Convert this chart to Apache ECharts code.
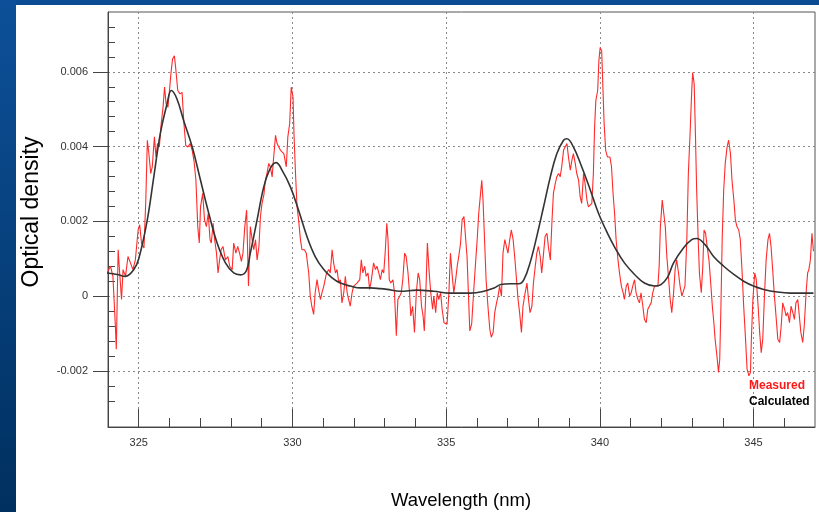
<!DOCTYPE html>
<html>
<head>
<meta charset="utf-8">
<script src="https://cdn.jsdelivr.net/npm/echarts@6.0.0/dist/echarts.min.js"></script>
<style>
  html, body { margin: 0; padding: 0; background: #fff; }
  #chart { width: 819px; height: 512px; }
</style>
</head>
<body>
<div id="chart"></div>
<script>
// axis ticks
var xMajorTicks = [325, 330, 335, 340, 345];
var xMinorTicks = [324, 326, 327, 328, 329, 331, 332, 333, 334, 336, 337, 338, 339, 341, 342, 343, 344, 346];
var yMajorTicks = [-0.002, 0, 0.002, 0.004, 0.006];
var yMinorTicks = [-0.0028, -0.0024, -0.0016, -0.0012, -0.0008, -0.0004, 0.0004, 0.0008, 0.0012, 0.0016,
  0.0024, 0.0028, 0.0032, 0.0036, 0.0044, 0.0048, 0.0052, 0.0056, 0.0064, 0.0068, 0.0072];

// [wavelength nm, optical density]
var calculated = [
  [323.97, 0.62e-3], [324.3, 0.58e-3], [324.57, 0.53e-3], [324.84, 0.71e-3], [325.0, 1.0e-3],
  [325.27, 2.0e-3], [325.49, 3.19e-3], [325.7, 4.34e-3], [325.92, 5.14e-3], [326.06, 5.5e-3],
  [326.24, 5.28e-3], [326.46, 4.7e-3], [326.74, 3.99e-3], [327.01, 3.1e-3], [327.28, 2.21e-3],
  [327.55, 1.42e-3], [327.82, 0.89e-3], [328.09, 0.62e-3], [328.31, 0.57e-3], [328.5, 0.68e-3],
  [328.63, 1.15e-3], [328.85, 2.04e-3], [329.07, 2.93e-3], [329.28, 3.42e-3], [329.47, 3.57e-3],
  [329.66, 3.37e-3], [329.93, 2.93e-3], [330.2, 2.3e-3], [330.47, 1.6e-3], [330.74, 1.06e-3],
  [331.02, 0.71e-3], [331.29, 0.49e-3], [331.56, 0.35e-3], [331.88, 0.27e-3], [332.21, 0.22e-3],
  [332.53, 0.22e-3], [332.86, 0.2e-3], [333.08, 0.18e-3], [333.51, 0.13e-3], [334.05, 0.16e-3],
  [334.6, 0.13e-3], [335.14, 0.08e-3], [335.79, 0.08e-3], [336.23, 0.13e-3], [336.56, 0.22e-3],
  [336.78, 0.31e-3], [337.1, 0.33e-3], [337.37, 0.33e-3], [337.53, 0.44e-3], [337.73, 0.89e-3],
  [337.95, 1.6e-3], [338.17, 2.39e-3], [338.39, 3.19e-3], [338.6, 3.81e-3], [338.82, 4.17e-3],
  [338.93, 4.21e-3], [339.14, 3.99e-3], [339.41, 3.46e-3], [339.69, 2.84e-3], [339.96, 2.21e-3],
  [340.25, 1.68e-3], [340.53, 1.24e-3], [340.8, 0.89e-3], [341.13, 0.58e-3], [341.45, 0.35e-3],
  [341.78, 0.27e-3], [341.99, 0.31e-3], [342.2, 0.5e-3], [342.4, 0.89e-3], [342.72, 1.29e-3],
  [342.99, 1.51e-3], [343.15, 1.54e-3], [343.43, 1.37e-3], [343.7, 1.06e-3], [344.03, 0.8e-3],
  [344.36, 0.58e-3], [344.68, 0.4e-3], [345.0, 0.27e-3], [345.33, 0.18e-3], [345.77, 0.11e-3],
  [346.2, 0.08e-3], [346.63, 0.08e-3], [346.95, 0.08e-3]
];

var measured = [
  [323.97, 0.62e-3], [324.08, 0.8e-3], [324.16, 0.53e-3], [324.24, -0.8e-3], [324.27, -1.42e-3],
  [324.33, 1.24e-3], [324.38, 0.62e-3], [324.44, -0.09e-3], [324.49, 0.71e-3], [324.57, 0.53e-3],
  [324.65, 1.06e-3], [324.73, 0.89e-3], [324.81, 0.71e-3], [324.89, 0.97e-3], [324.98, 1.77e-3],
  [325.03, 1.91e-3], [325.09, 1.42e-3], [325.17, 1.29e-3], [325.23, 2.57e-3], [325.28, 4.17e-3],
  [325.33, 3.81e-3], [325.39, 3.28e-3], [325.44, 3.46e-3], [325.51, 4.26e-3], [325.56, 3.72e-3],
  [325.61, 4.08e-3], [325.67, 3.99e-3], [325.73, 4.61e-3], [325.79, 5.05e-3], [325.84, 5.59e-3],
  [325.89, 5.14e-3], [325.95, 5.05e-3], [326.0, 5.5e-3], [326.05, 5.98e-3], [326.1, 6.34e-3],
  [326.16, 6.43e-3], [326.2, 6.12e-3], [326.27, 5.5e-3], [326.34, 5.41e-3], [326.41, 5.45e-3],
  [326.47, 4.61e-3], [326.53, 4.03e-3], [326.6, 3.99e-3], [326.67, 4.08e-3], [326.74, 3.9e-3],
  [326.8, 3.6e-3], [326.86, 3.1e-3], [326.92, 1.86e-3], [326.97, 1.42e-3], [327.01, 2.39e-3],
  [327.08, 2.75e-3], [327.14, 2.04e-3], [327.2, 1.86e-3], [327.26, 2.21e-3], [327.32, 1.51e-3],
  [327.36, 1.42e-3], [327.42, 1.95e-3], [327.47, 1.51e-3], [327.53, 1.15e-3], [327.58, 0.62e-3],
  [327.63, 0.97e-3], [327.68, 1.24e-3], [327.74, 1.33e-3], [327.82, 0.97e-3], [327.9, 1.06e-3],
  [327.96, 0.8e-3], [328.04, 0.71e-3], [328.09, 1.42e-3], [328.16, 1.15e-3], [328.22, 1.33e-3],
  [328.28, 1.15e-3], [328.34, 0.93e-3], [328.39, 1.15e-3], [328.45, 1.86e-3], [328.51, 2.3e-3],
  [328.57, 0.27e-3], [328.63, 1.86e-3], [328.69, 1.51e-3], [328.74, 1.24e-3], [328.8, 1.51e-3],
  [328.85, 0.97e-3], [328.91, 1.33e-3], [328.96, 2.13e-3], [329.01, 2.48e-3], [329.07, 2.7e-3],
  [329.12, 3.1e-3], [329.17, 3.28e-3], [329.23, 3.55e-3], [329.28, 3.46e-3], [329.34, 3.19e-3],
  [329.39, 3.72e-3], [329.45, 4.3e-3], [329.5, 4.08e-3], [329.61, 3.9e-3], [329.72, 3.81e-3],
  [329.8, 3.46e-3], [329.85, 4.26e-3], [329.91, 4.61e-3], [329.96, 5.59e-3], [330.02, 5.32e-3],
  [330.05, 4.34e-3], [330.1, 3.28e-3], [330.15, 2.39e-3], [330.2, 2.04e-3], [330.26, 1.51e-3],
  [330.31, 1.24e-3], [330.39, 1.24e-3], [330.45, 1.15e-3], [330.53, 0.62e-3], [330.58, 0],
  [330.63, -0.27e-3], [330.69, -0.49e-3], [330.74, 0.09e-3], [330.8, 0.44e-3], [330.85, 0.18e-3],
  [330.91, -0.09e-3], [330.96, 0.09e-3], [331.02, 0.27e-3], [331.11, 0.62e-3], [331.18, 0.71e-3],
  [331.23, 0.62e-3], [331.29, 1.24e-3], [331.34, 0.89e-3], [331.4, 0.62e-3], [331.45, 0.71e-3],
  [331.51, 0.35e-3], [331.56, 0.44e-3], [331.61, -0.18e-3], [331.67, 0.09e-3], [331.72, 0.53e-3],
  [331.78, 0.09e-3], [331.83, -0.09e-3], [331.88, -0.27e-3], [331.94, 0.09e-3], [331.99, 0.27e-3],
  [332.1, 0.35e-3], [332.19, 0.44e-3], [332.24, 0.97e-3], [332.29, 0.62e-3], [332.35, 0.8e-3],
  [332.4, 0.53e-3], [332.46, 0.62e-3], [332.51, 0.18e-3], [332.57, 0.44e-3], [332.64, 0.89e-3],
  [332.7, 0.71e-3], [332.75, 0.8e-3], [332.81, 0.62e-3], [332.86, 0.44e-3], [332.92, 0.71e-3],
  [332.97, 0.62e-3], [333.02, 1.2e-3], [333.07, 1.95e-3], [333.11, 1.51e-3], [333.15, 0.44e-3],
  [333.2, 0.35e-3], [333.27, 0.44e-3], [333.32, 0.09e-3], [333.38, -1.06e-3], [333.43, -0.09e-3],
  [333.49, 0], [333.54, 0.09e-3], [333.59, 0.44e-3], [333.65, 1.15e-3], [333.7, 1.06e-3],
  [333.76, 0.62e-3], [333.81, 0.09e-3], [333.85, -0.53e-3], [333.91, -0.27e-3], [333.97, -0.97e-3],
  [334.03, 0.09e-3], [334.09, 0.62e-3], [334.14, 0.44e-3], [334.2, -0.27e-3], [334.25, -0.53e-3],
  [334.29, -0.93e-3], [334.34, 0.09e-3], [334.39, 1.42e-3], [334.45, 0.62e-3], [334.5, 0.09e-3],
  [334.56, -0.35e-3], [334.6, 0], [334.66, -0.44e-3], [334.71, 0.09e-3], [334.76, -0.09e-3],
  [334.82, 0.09e-3], [334.87, -0.35e-3], [334.93, -0.71e-3], [335.03, -0.75e-3], [335.09, 0.09e-3],
  [335.14, 1.15e-3], [335.2, 0.53e-3], [335.25, 0.09e-3], [335.31, 0.44e-3], [335.36, 0.8e-3],
  [335.41, 1.06e-3], [335.47, 1.42e-3], [335.52, 2.04e-3], [335.58, 2.13e-3], [335.63, 2.17e-3],
  [335.68, 1.06e-3], [335.74, -0.27e-3], [335.77, -0.93e-3], [335.83, -0.75e-3], [335.9, 0.18e-3],
  [335.95, 0.8e-3], [336.01, 1.51e-3], [336.06, 2.21e-3], [336.12, 2.75e-3], [336.16, 3.1e-3],
  [336.2, 2.57e-3], [336.25, 1.51e-3], [336.3, 0.44e-3], [336.36, -0.27e-3], [336.42, -0.88e-3],
  [336.47, -1.1e-3], [336.53, -0.97e-3], [336.58, -0.45e-3], [336.64, -0.18e-3], [336.69, 0],
  [336.74, 0.27e-3], [336.8, 0], [336.85, 1.15e-3], [336.91, 1.51e-3], [336.96, 1.51e-3],
  [337.01, 1.15e-3], [337.07, 1.51e-3], [337.12, 1.77e-3], [337.18, 1.51e-3], [337.23, 1.06e-3],
  [337.29, 0.44e-3], [337.34, -0.09e-3], [337.39, -0.44e-3], [337.45, -0.97e-3], [337.5, -0.27e-3],
  [337.57, 0.09e-3], [337.63, 0.35e-3], [337.68, -0.09e-3], [337.73, -0.44e-3], [337.79, -0.27e-3],
  [337.84, 0.35e-3], [337.9, 0.8e-3], [337.95, 1.15e-3], [338.0, 1.33e-3], [338.06, 1.06e-3],
  [338.11, 0.62e-3], [338.17, 1.15e-3], [338.22, 1.6e-3], [338.28, 1.68e-3], [338.33, 1.3e-3],
  [338.39, 0.97e-3], [338.44, 1.95e-3], [338.49, 2.75e-3], [338.55, 3.01e-3], [338.6, 3.19e-3],
  [338.66, 3.28e-3], [338.71, 3.19e-3], [338.76, 3.46e-3], [338.82, 3.9e-3], [338.87, 3.99e-3],
  [338.93, 4.08e-3], [338.98, 3.72e-3], [339.04, 3.37e-3], [339.09, 3.63e-3], [339.14, 3.81e-3],
  [339.2, 3.55e-3], [339.25, 3.28e-3], [339.31, 3.1e-3], [339.36, 2.66e-3], [339.41, 2.48e-3],
  [339.47, 3.28e-3], [339.52, 3.01e-3], [339.58, 2.57e-3], [339.63, 2.39e-3], [339.69, 2.39e-3],
  [339.74, 2.48e-3], [339.79, 3.28e-3], [339.83, 4.52e-3], [339.87, 5.23e-3], [339.93, 5.5e-3],
  [339.97, 6.3e-3], [340.01, 6.65e-3], [340.06, 6.56e-3], [340.1, 5.59e-3], [340.14, 4.61e-3],
  [340.19, 3.9e-3], [340.25, 3.72e-3], [340.33, 3.72e-3], [340.38, 3.46e-3], [340.43, 2.75e-3],
  [340.48, 2.21e-3], [340.53, 1.51e-3], [340.59, 0.97e-3], [340.64, 0.62e-3], [340.7, 0.27e-3],
  [340.76, 0.09e-3], [340.8, -0.09e-3], [340.86, 0.27e-3], [340.91, 0.35e-3], [340.97, 0],
  [341.02, 0.09e-3], [341.07, 0.27e-3], [341.13, 0.44e-3], [341.18, 0.09e-3], [341.24, -0.09e-3],
  [341.29, -0.18e-3], [341.34, 0.09e-3], [341.4, -0.27e-3], [341.45, -0.62e-3], [341.51, -0.71e-3],
  [341.56, -0.35e-3], [341.62, -0.4e-3], [341.67, -0.18e-3], [341.72, 0.09e-3], [341.78, 0.27e-3],
  [341.83, 0.22e-3], [341.89, 0.27e-3], [341.93, 0.8e-3], [341.97, 1.86e-3], [342.03, 2.57e-3],
  [342.08, 2.57e-3], [342.13, 1.86e-3], [342.18, 1.06e-3], [342.24, 0.44e-3], [342.29, -0.09e-3],
  [342.34, -0.44e-3], [342.4, 0.09e-3], [342.45, 0.71e-3], [342.5, 0.97e-3], [342.56, 0.62e-3],
  [342.61, 0.27e-3], [342.67, 0], [342.72, -0.04e-3], [342.77, 0.27e-3], [342.83, 1.51e-3],
  [342.88, 3.28e-3], [342.94, 4.43e-3], [342.99, 5.5e-3], [343.02, 5.98e-3], [343.07, 5.67e-3],
  [343.11, 4.34e-3], [343.15, 2.84e-3], [343.2, 1.51e-3], [343.24, 0.62e-3], [343.3, 0.09e-3],
  [343.35, 0.8e-3], [343.39, 1.77e-3], [343.44, 1.68e-3], [343.49, 1.33e-3], [343.55, 0.97e-3],
  [343.6, 0.44e-3], [343.66, -0.27e-3], [343.71, -0.71e-3], [343.75, -1.15e-3], [343.81, -1.6e-3],
  [343.86, -2.04e-3], [343.9, -1.7e-3], [343.94, -0.27e-3], [343.98, 1.51e-3], [344.03, 2.84e-3],
  [344.08, 3.55e-3], [344.14, 3.99e-3], [344.19, 4.17e-3], [344.25, 3.81e-3], [344.3, 3.1e-3],
  [344.36, 2.57e-3], [344.41, 2.04e-3], [344.46, 1.86e-3], [344.52, 1.77e-3], [344.57, 1.51e-3],
  [344.63, 0.62e-3], [344.68, -0.27e-3], [344.74, -1.15e-3], [344.79, -1.95e-3], [344.85, -2.13e-3],
  [344.9, -2.04e-3], [344.93, -1.15e-3], [344.98, -0.09e-3], [345.04, 0.62e-3], [345.09, 0.44e-3],
  [345.15, -0.27e-3], [345.2, -0.97e-3], [345.25, -1.51e-3], [345.3, -1.15e-3], [345.36, 0.09e-3],
  [345.41, 0.97e-3], [345.47, 1.51e-3], [345.52, 1.68e-3], [345.57, 1.33e-3], [345.63, 0.62e-3],
  [345.68, 0], [345.74, -0.62e-3], [345.79, -1.15e-3], [345.85, -1.24e-3], [345.9, -0.8e-3],
  [345.95, -0.18e-3], [346.01, -0.35e-3], [346.06, -0.53e-3], [346.11, -0.44e-3], [346.17, -0.71e-3],
  [346.22, -0.27e-3], [346.28, -0.44e-3], [346.33, -0.62e-3], [346.38, -0.18e-3], [346.44, -0.09e-3],
  [346.49, -0.53e-3], [346.54, -0.97e-3], [346.6, -1.24e-3], [346.65, -0.8e-3], [346.71, 0.09e-3],
  [346.76, 0.62e-3], [346.8, 0.71e-3], [346.85, 0.97e-3], [346.9, 1.68e-3], [346.95, 1.2e-3]
];

var font = 'Arial, "Liberation Sans", sans-serif';
var axisColor = '#444';

var chart = echarts.init(document.getElementById('chart'), null, { renderer: 'canvas' });

var option = {
  animation: false,
  backgroundColor: '#ffffff',
  grid: {
    left: 108, right: 4, top: 12, bottom: 85,
    show: true, borderColor: '#555', borderWidth: 1
  },
  legend: {
    orient: 'vertical',
    left: 739, top: 375,
    icon: 'none', itemWidth: 0, itemHeight: 10, itemGap: 4,
    selectedMode: false,
    textStyle: { fontFamily: font, fontSize: 12, fontWeight: 'bold' },
    data: [
      { name: 'Measured', textStyle: { color: '#ff1a1a' } },
      { name: 'Calculated', textStyle: { color: '#000' } }
    ]
  },
  xAxis: [
    {
      type: 'value', min: 324, max: 347, position: 'bottom',
      axisLine: { show: true, onZero: false, lineStyle: { color: axisColor, width: 1 } },
      axisTick: { show: true, inside: true, length: 9, customValues: xMinorTicks, lineStyle: { color: axisColor } },
      axisLabel: { show: false },
      splitLine: { show: false }
    },
    {
      type: 'value', min: 324, max: 347, position: 'bottom',
      axisLine: { show: false, onZero: false },
      axisTick: { show: true, inside: true, length: 18, customValues: xMajorTicks, lineStyle: { color: axisColor } },
      axisLabel: {
        show: true, customValues: xMajorTicks, margin: 10,
        fontFamily: font, fontSize: 11, color: '#333',
        formatter: function (v) { return String(v); }
      },
      splitLine: { show: true, lineStyle: { color: '#8a8a8a', type: [2, 3], width: 1 } }
    }
  ],
  yAxis: [
    {
      type: 'value', min: -0.0035, max: 0.0076, position: 'left',
      axisLine: { show: true, onZero: false, lineStyle: { color: axisColor, width: 1 } },
      axisTick: { show: true, inside: true, length: 7, customValues: yMinorTicks, lineStyle: { color: axisColor } },
      axisLabel: { show: false },
      splitLine: { show: false }
    },
    {
      type: 'value', min: -0.0035, max: 0.0076, position: 'left',
      axisLine: { show: false, onZero: false },
      axisTick: { show: true, inside: false, length: 15, customValues: yMajorTicks, lineStyle: { color: axisColor } },
      axisLabel: {
        show: true, customValues: yMajorTicks, margin: 20,
        fontFamily: font, fontSize: 11, color: '#333',
        formatter: function (v) { return String(v); }
      },
      splitLine: { show: true, lineStyle: { color: '#8a8a8a', type: [2, 3], width: 1 } }
    }
  ],
  graphic: [
    { type: 'rect', left: 0, top: 0, shape: { width: 819, height: 5 }, style: { fill: '#0b4c93' }, z: 100 },
    {
      type: 'rect', left: 0, top: 0, shape: { width: 16, height: 512 }, z: 100,
      style: {
        fill: new echarts.graphic.LinearGradient(0, 0, 0, 1, [
          { offset: 0, color: '#0d5099' },
          { offset: 1, color: '#00305f' }
        ])
      }
    },
    {
      type: 'text', x: 32, y: 212, rotation: Math.PI / 2,
      style: {
        text: 'Optical density', fill: '#000', font: '23px ' + font,
        textAlign: 'center', textVerticalAlign: 'middle'
      }
    },
    {
      type: 'text', x: 461, y: 501,
      style: {
        text: 'Wavelength (nm)', fill: '#000', font: '18.5px ' + font,
        textAlign: 'center', textVerticalAlign: 'middle'
      }
    }
  ],
  series: [
    {
      name: 'Measured', type: 'line', xAxisIndex: 0, yAxisIndex: 0,
      data: measured, showSymbol: false, symbol: 'none',
      lineStyle: { color: '#ff2a2a', width: 1.1 },
      itemStyle: { color: '#ff2a2a' },
      z: 3
    },
    {
      name: 'Calculated', type: 'line', xAxisIndex: 0, yAxisIndex: 0,
      data: calculated, showSymbol: false, symbol: 'none', smooth: 0.4,
      lineStyle: { color: '#333', width: 1.6 },
      itemStyle: { color: '#333' },
      z: 4
    }
  ]
};

chart.setOption(option);
</script>
</body>
</html>
